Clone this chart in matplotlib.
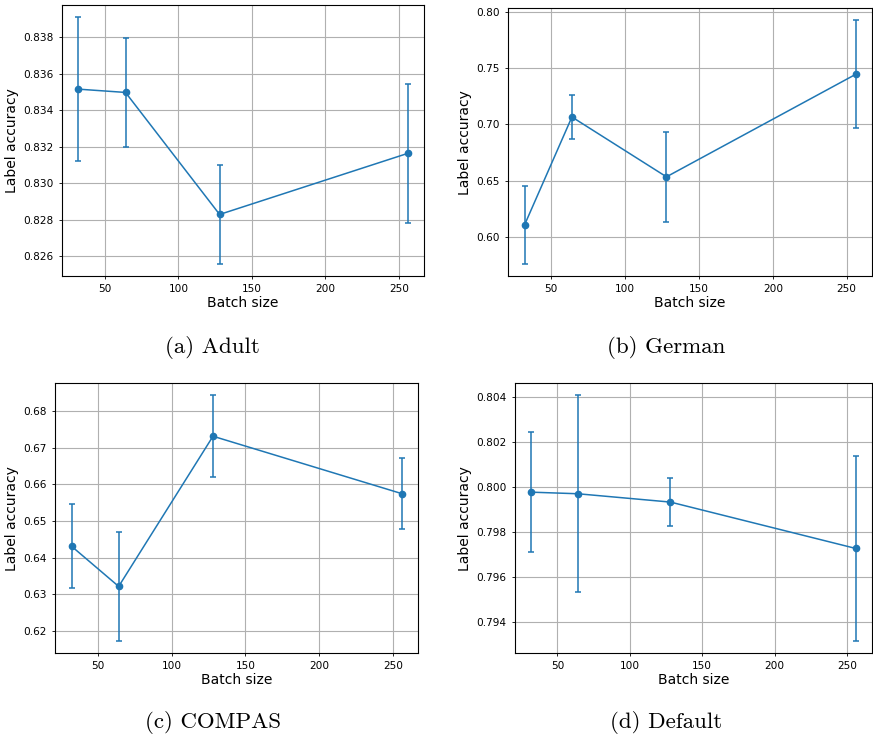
import matplotlib.pyplot as plt

batch = [32, 64, 128, 256]

adult_acc = [0.83516, 0.83498, 0.82829, 0.83164]
adult_err = [0.00393, 0.00298, 0.00270, 0.00380]

german_acc = [0.6109, 0.7065, 0.6534, 0.7443]
german_err = [0.0347, 0.0194, 0.0400, 0.0480]

compas_acc = [0.6431, 0.6321, 0.6732, 0.6575]
compas_err = [0.0115, 0.0149, 0.0112, 0.0097]

default_acc = [0.79976, 0.79969, 0.79932, 0.79726]
default_err = [0.00265, 0.00437, 0.00106, 0.00410]

captions = ["(a) Adult", "(b) German", "(c) COMPAS", "(d) Default"]

fig = plt.figure(figsize=(8.73, 7.38), dpi=100)

# axes rectangles picked to sit like the four sub-figures
rects = [
    [0.071, 0.626, 0.415, 0.367],
    [0.582, 0.626, 0.417, 0.363],
    [0.063, 0.115, 0.416, 0.366],
    [0.590, 0.115, 0.409, 0.366],
]
panels = [
    (adult_acc, adult_err),
    (german_acc, german_err),
    (compas_acc, compas_err),
    (default_acc, default_err),
]
cap_pos = [(0.243, 0.522), (0.763, 0.522), (0.244, 0.014), (0.763, 0.014)]

for rect, (acc, err), cap, (cx, cy) in zip(rects, panels, captions, cap_pos):
    ax = fig.add_axes(rect)
    ax.errorbar(batch, acc, yerr=err, marker='o', markersize=4.5,
                capsize=2.5, linewidth=1.1, elinewidth=1.1, capthick=1.1,
                color='#1f77b4')
    ax.grid(True, color='#b0b0b0', linewidth=0.8)
    ax.set_axisbelow(True)
    ax.set_xticks([50, 100, 150, 200, 250])
    ax.tick_params(labelsize=7.6, length=2.5, width=0.6)
    ax.set_xlabel("Batch size", fontsize=10, labelpad=1)
    ax.set_ylabel("Label accuracy", fontsize=10, labelpad=3)
    for s in ax.spines.values():
        s.set_linewidth(0.8)
    fig.text(cx, cy, cap, fontsize=16.5, family='cmr10', ha='center', va='baseline')

fig.savefig("out.png", dpi=100)
